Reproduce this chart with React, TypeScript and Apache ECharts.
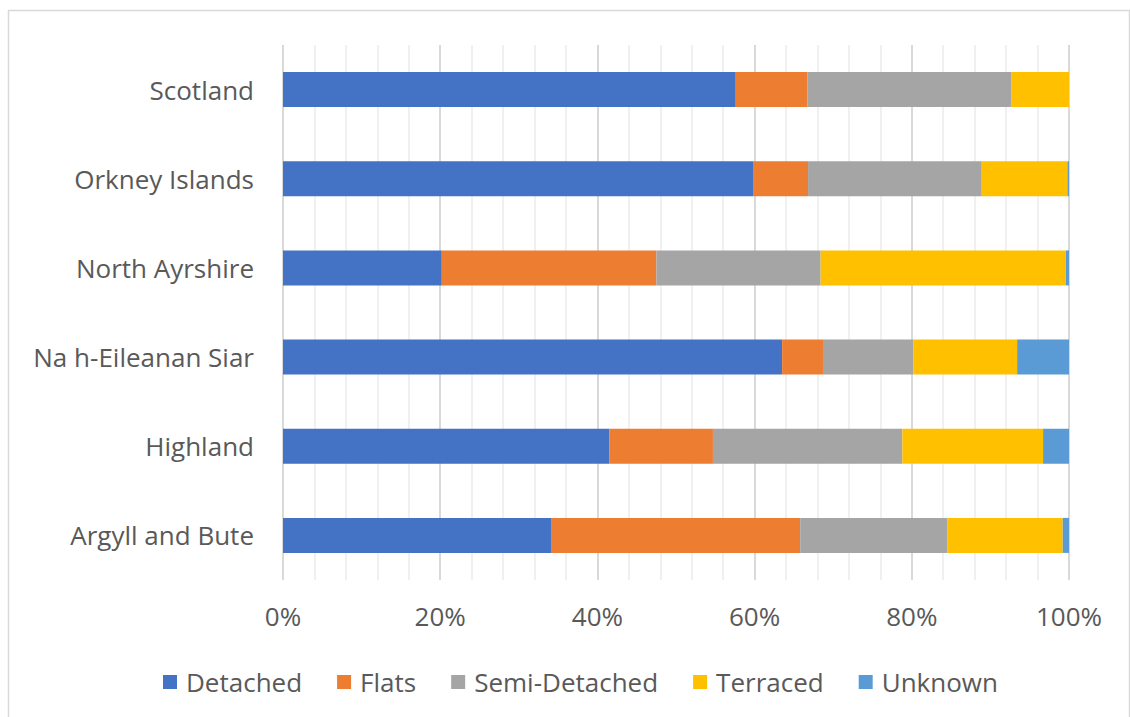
import React, { useEffect, useRef } from "react";
import * as echarts from "echarts";

// Dwelling type shares (%) by area, listed bottom-to-top as drawn on the category axis
const areas = [
  "Argyll and Bute",
  "Highland",
  "Na h-Eileanan Siar",
  "North Ayrshire",
  "Orkney Islands",
  "Scotland",
];

const detached = [34.1, 41.5, 63.5, 20.2, 59.8, 57.6];
const flats = [31.7, 13.2, 5.2, 27.3, 7.0, 9.1];
const semiDetached = [18.7, 24.1, 11.5, 20.9, 22.1, 26.0];
const terraced = [14.7, 17.9, 13.2, 31.2, 10.9, 7.3];
const unknown = [0.8, 3.3, 6.6, 0.4, 0.2, 0.0];

const seriesNames = ["Detached", "Flats", "Semi-Detached", "Terraced", "Unknown"];
const seriesData = [detached, flats, semiDetached, terraced, unknown];
const colors = ["#4472C4", "#ED7D31", "#A5A5A5", "#FFC000", "#5B9BD5"];

const FONT = "'Open Sans', 'Noto Sans', sans-serif";
const FONT_SIZE = 26;

export default function App() {
  const ref = useRef<HTMLDivElement>(null);

  useEffect(() => {
    if (!ref.current) return;
    const chart = echarts.init(ref.current, undefined, { renderer: "svg" });
    chart.setOption({
      animation: false,
      backgroundColor: "#ffffff",
      color: colors,
      graphic: [
        {
          type: "rect",
          shape: { x: 8.5, y: 10.5, width: 1121, height: 720 },
          style: { fill: "none", stroke: "#d9d9d9", lineWidth: 1.5 },
          silent: true,
          z: -10,
        },
      ],
      grid: { left: 283, right: 61, top: 45, bottom: 137, containLabel: false },
      legend: {
        left: 158,
        top: 664,
        itemWidth: 14,
        itemHeight: 14,
        itemGap: 35,
        icon: "rect",
        textStyle: {
          fontFamily: FONT,
          fontSize: FONT_SIZE,
          color: "#595959",
          padding: [0, 0, 0, 4],
        },
        data: seriesNames,
      },
      xAxis: {
        type: "value",
        min: 0,
        max: 100,
        interval: 20,
        axisLine: { show: false },
        axisTick: { show: false },
        axisLabel: {
          formatter: "{value}%",
          fontFamily: FONT,
          fontSize: FONT_SIZE,
          color: "#595959",
          margin: 23,
        },
        splitLine: { show: true, lineStyle: { color: "#d9d9d9", width: 2 } },
        minorTick: { show: false, splitNumber: 5 },
        minorSplitLine: { show: true, lineStyle: { color: "#f0f0f0", width: 2 } },
      },
      yAxis: {
        type: "category",
        data: areas,
        axisLine: { show: false },
        axisTick: { show: false },
        axisLabel: {
          fontFamily: FONT,
          fontSize: FONT_SIZE,
          color: "#595959",
          margin: 29,
        },
        splitLine: { show: false },
      },
      series: seriesNames.map((name, i) => ({
        name,
        type: "bar",
        stack: "total",
        barWidth: 35,
        data: seriesData[i],
        itemStyle: { color: colors[i] },
      })),
    });
    return () => chart.dispose();
  }, []);

  return (
    <div
      ref={ref}
      style={{ position: "fixed", left: 0, top: 0, width: 1130, height: 717 }}
    />
  );
}
